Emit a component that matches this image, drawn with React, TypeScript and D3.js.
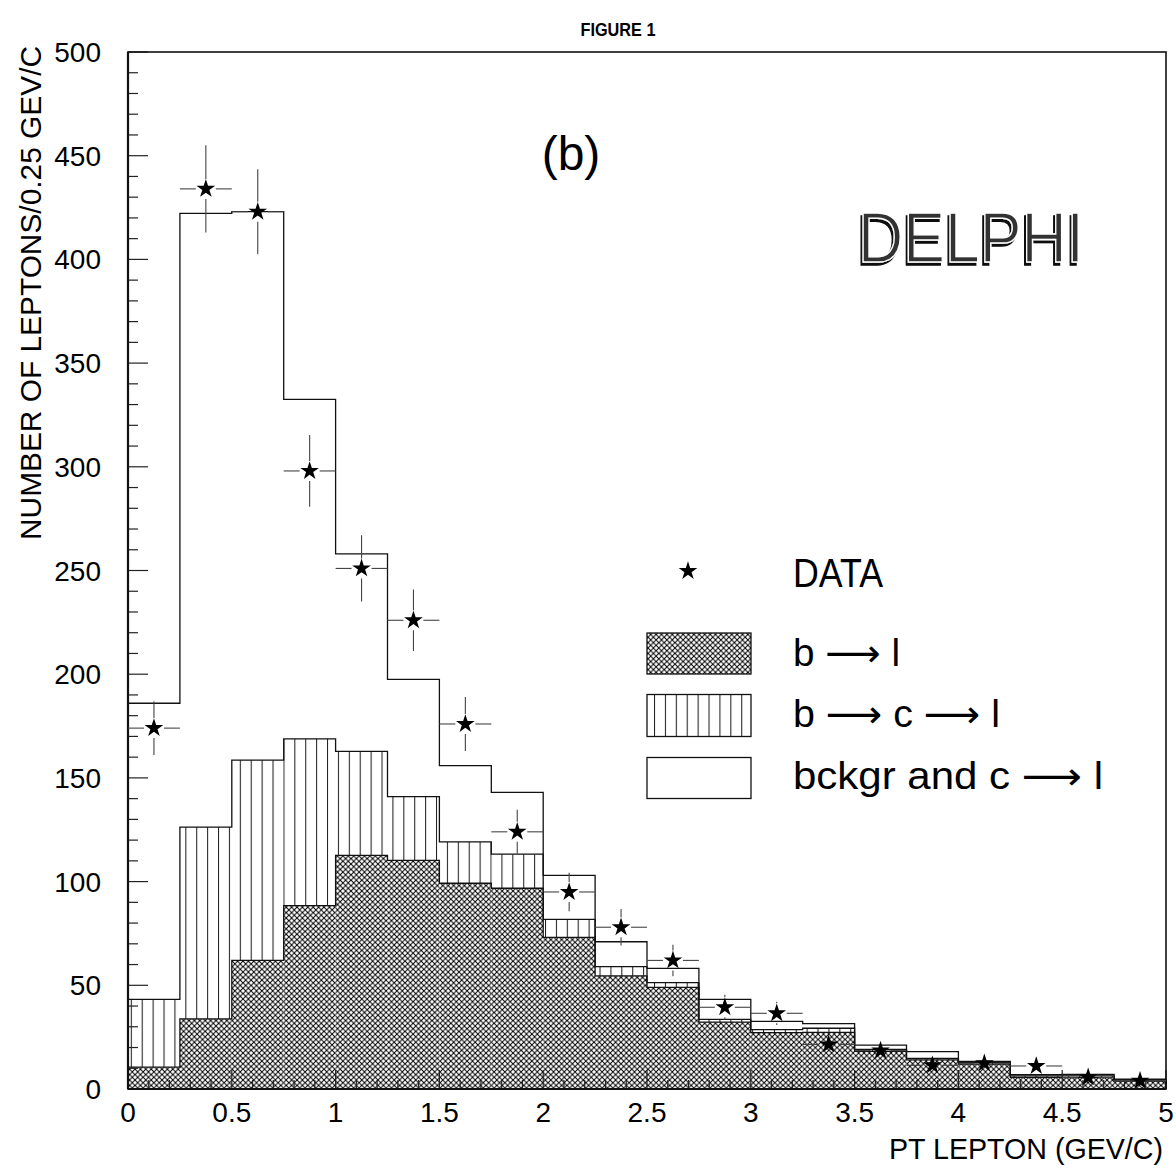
import React from "react";
import * as d3 from "d3";

// ---- data ----
const binLow = [0, 0.25, 0.5, 0.75, 1, 1.25, 1.5, 1.75, 2, 2.25, 2.5, 2.75, 3, 3.25, 3.5, 3.75, 4, 4.25, 4.5, 4.75];
const binHigh = [0.25, 0.5, 0.75, 1, 1.25, 1.5, 1.75, 2, 2.25, 2.5, 2.75, 3, 3.25, 3.5, 3.75, 4, 4.25, 4.5, 4.75, 5];
// b -> l (cross-hatched, bottom layer)
const bToL = [10.5, 33.8, 62.0, 88.4, 112.6, 110.2, 99.2, 96.8, 73.1, 54.5, 49.0, 32.2, 27.2, 27.3, 18.2, 14.0, 12.0, 5.6, 5.5, 3.8];
// b -> c -> l (vertical hatch, stacked on b -> l)
const bToCToL = [32.7, 92.5, 96.6, 80.4, 50.2, 30.8, 20.0, 16.4, 8.7, 4.5, 2.3, 1.4, 1.4, 2.0, 0.9, 0.8, 0.7, 0.7, 0.8, 0.5];
// bckgr and c -> l (open, top layer)
const bckgrAndC = [142.8, 295.9, 264.4, 163.7, 95.2, 56.5, 36.7, 29.8, 21.2, 12.0, 6.9, 9.6, 4.0, 2.2, 2.1, 3.2, 0.6, 0.6, 0.7, 0.4];
// DATA points and errors
const dataVal = [174, 434, 423, 298, 251, 226, 176, 124, 95, 78, 62, 39.4, 36.5, 21.5, 18.5, 11.4, 12.4, 11.1, 5.6, 4.0];
const dataErr = [13, 21, 20.5, 17.3, 16, 14.8, 13, 10.6, 9.3, 8.8, 7.6, 6, 5.6, 4.6, 4.3, 3.4, 3.5, 3.3, 2.4, 2];

const xTickLabels = ["0", "0.5", "1", "1.5", "2", "2.5", "3", "3.5", "4", "4.5", "5"];
const yTickLabels = ["0", "50", "100", "150", "200", "250", "300", "350", "400", "450", "500"];

const W = 1176;
const H = 1169;
const FONT = "'Liberation Sans', 'DejaVu Sans', Arial, sans-serif";

export default function App() {
  const x = d3.scaleLinear().domain([0, 5]).range([128, 1166]);
  const y = d3.scaleLinear().domain([0, 500]).range([1089, 52]);

  const rows = binLow.map((lo, i) => ({
    lo,
    hi: binHigh[i],
    bl: bToL[i],
    bcl: bToCToL[i],
    bkg: bckgrAndC[i],
  }));
  const stacked = d3.stack<any>().keys(["bl", "bcl", "bkg"])(rows);
  const fills: Record<string, string> = {
    bl: "url(#xhatch)",
    bcl: "url(#vhatch)",
    bkg: "#ffffff",
  };

  const line = d3
    .line<[number, number]>()
    .x((d) => x(d[0]))
    .y((d) => y(d[1]));

  const outline = (layerIdx: number) => {
    const pts: [number, number][] = [[0, 0]];
    stacked[layerIdx].forEach((d: any, i: number) => {
      pts.push([rows[i].lo, d[1]]);
      pts.push([rows[i].hi, d[1]]);
    });
    pts.push([5, 0]);
    return line(pts) || "";
  };

  const star = d3.symbol().type(d3.symbolStar).size(108);
  const starPath = star() || "";

  const gap = 10;
  const errColor = "#444";

  const xMinor = d3.range(0, 51).map((k) => k / 10);
  const yMinor = d3.range(0, 51).map((k) => k * 10);

  const legendX0 = 647;
  const legendX1 = 751;

  return (
    <svg
      width={W}
      height={H}
      viewBox={`0 0 ${W} ${H}`}
      style={{ position: "absolute", left: 0, top: 0, background: "#fff" }}
    >
      <defs>
        <pattern id="vhatch" patternUnits="userSpaceOnUse" width={10.9} height={10}>
          <rect width={10.9} height={10} fill="#fff" />
          <line x1={0.5} y1={0} x2={0.5} y2={10} stroke="#222" strokeWidth={1.1} />
        </pattern>
        <pattern id="xhatch" patternUnits="userSpaceOnUse" width={5.4} height={5.4}>
          <rect width={5.4} height={5.4} fill="#fff" />
          <path
            d="M-1,-1L6.4,6.4M6.4,-1L-1,6.4"
            stroke="#000"
            strokeWidth={1.0}
            fill="none"
          />
        </pattern>
        <filter id="logoShadow" x="-10%" y="-20%" width="120%" height="140%">
          <feOffset in="SourceAlpha" dx={-2.5} dy={2.5} result="off" />
          <feFlood floodColor="#111" result="col" />
          <feComposite in="col" in2="off" operator="in" result="shadow" />
          <feMerge>
            <feMergeNode in="shadow" />
            <feMergeNode in="SourceGraphic" />
          </feMerge>
        </filter>
      </defs>
      <rect x={0} y={0} width={W} height={H} fill="#fff" />

      {/* title */}
      <text x={618} y={36} textAnchor="middle" fontFamily={FONT} fontSize={18} fontWeight="bold" textLength={75} lengthAdjust="spacingAndGlyphs">
        FIGURE 1
      </text>

      {/* stacked histogram fills */}
      {stacked.map((layer: any) => (
        <g key={layer.key}>
          {layer.map((d: any, i: number) => (
            <rect
              key={i}
              x={x(rows[i].lo)}
              width={x(rows[i].hi) - x(rows[i].lo)}
              y={y(d[1])}
              height={Math.max(0, y(d[0]) - y(d[1]))}
              fill={fills[layer.key]}
            />
          ))}
        </g>
      ))}

      {/* outlines */}
      {[0, 1, 2].map((k) => (
        <path key={k} d={outline(k)} fill="none" stroke="#111" strokeWidth={1.3} />
      ))}

      {/* axis ticks */}
      {yMinor.map((v) => (
        <line
          key={"yt" + v}
          x1={x(0)}
          x2={x(0) + (v % 50 === 0 ? 20 : 10)}
          y1={y(v)}
          y2={y(v)}
          stroke="#222"
          strokeWidth={1.2}
        />
      ))}
      {xMinor.map((v, k) => (
        <line
          key={"xt" + k}
          x1={x(v)}
          x2={x(v)}
          y1={y(0)}
          y2={y(0) - (k % 5 === 0 ? 19 : 9)}
          stroke="#222"
          strokeWidth={1.2}
        />
      ))}

      {/* frame */}
      <rect x={x(0)} y={y(500)} width={x(5) - x(0)} height={y(0) - y(500)} fill="none" stroke="#111" strokeWidth={1.6} />
      <line x1={x(0)} x2={x(0)} y1={y(500)} y2={y(0)} stroke="#111" strokeWidth={2.2} />
      <line x1={x(0)} x2={x(5)} y1={y(0)} y2={y(0)} stroke="#111" strokeWidth={2.2} />

      {/* data points with error bars */}
      {dataVal.map((v, i) => {
        const cx = x((binLow[i] + binHigh[i]) / 2);
        const cy = y(v);
        const top = y(v + dataErr[i]);
        const bot = y(Math.max(0, v - dataErr[i]));
        return (
          <g key={"d" + i}>
            <line x1={x(binLow[i])} x2={cx - gap} y1={cy} y2={cy} stroke={errColor} strokeWidth={1.1} />
            <line x1={cx + gap} x2={x(binHigh[i])} y1={cy} y2={cy} stroke={errColor} strokeWidth={1.1} />
            {cy - top > gap && <line x1={cx} x2={cx} y1={top} y2={cy - gap} stroke={errColor} strokeWidth={1.1} />}
            {bot - cy > gap && <line x1={cx} x2={cx} y1={cy + gap} y2={bot} stroke={errColor} strokeWidth={1.1} />}
            <path d={starPath} transform={`translate(${cx},${cy})`} fill="#000" />
          </g>
        );
      })}

      {/* tick labels */}
      {yTickLabels.map((t, k) => (
        <text
          key={"yl" + t}
          x={101}
          y={y(k * 50) + 10}
          textAnchor="end"
          fontFamily={FONT}
          fontSize={28}
          fill="#000"
        >
          {t}
        </text>
      ))}
      {xTickLabels.map((t, k) => (
        <text
          key={"xl" + t}
          x={x(k * 0.5)}
          y={1122}
          textAnchor="middle"
          fontFamily={FONT}
          fontSize={28}
          fill="#000"
        >
          {t}
        </text>
      ))}

      {/* axis titles */}
      <text
        transform="translate(41,293) rotate(-90)"
        textAnchor="middle"
        fontFamily={FONT}
        fontSize={30}
        textLength={494}
        lengthAdjust="spacingAndGlyphs"
      >
        NUMBER OF LEPTONS/0.25 GEV/C
      </text>
      <text
        x={1163}
        y={1159}
        textAnchor="end"
        fontFamily={FONT}
        fontSize={30}
        textLength={274}
        lengthAdjust="spacingAndGlyphs"
      >
        PT LEPTON (GEV/C)
      </text>

      {/* (b) label */}
      <text x={571} y={170} textAnchor="middle" fontFamily={FONT} fontSize={48}>
        (b)
      </text>

      {/* DELPHI logo */}
      <text
        x={858}
        y={262}
        fontFamily={FONT}
        fontSize={70}
        textLength={226}
        lengthAdjust="spacingAndGlyphs"
        fill="#333"
        stroke="#fff"
        strokeWidth={1.4}
        filter="url(#logoShadow)"
      >
        DELPHI
      </text>

      {/* legend */}
      <path d={starPath} transform="translate(688,571)" fill="#000" />
      <text x={793} y={587} fontFamily={FONT} fontSize={40} textLength={90} lengthAdjust="spacingAndGlyphs">
        DATA
      </text>

      <rect x={legendX0} y={633} width={legendX1 - legendX0} height={41} fill="url(#xhatch)" stroke="#111" strokeWidth={1.3} />
      <text x={793} y={666} fontFamily={FONT} fontSize={38} textLength={107} lengthAdjust="spacingAndGlyphs">
        b ⟶ l
      </text>

      <rect x={legendX0} y={694.5} width={legendX1 - legendX0} height={42} fill="url(#vhatch)" stroke="#111" strokeWidth={1.3} />
      <text x={793} y={727} fontFamily={FONT} fontSize={38} textLength={207} lengthAdjust="spacingAndGlyphs">
        b ⟶ c ⟶ l
      </text>

      <rect x={legendX0} y={757.5} width={legendX1 - legendX0} height={41} fill="#fff" stroke="#111" strokeWidth={1.3} />
      <text x={793} y={789} fontFamily={FONT} fontSize={38} textLength={310} lengthAdjust="spacingAndGlyphs">
        bckgr and c ⟶ l
      </text>
    </svg>
  );
}
